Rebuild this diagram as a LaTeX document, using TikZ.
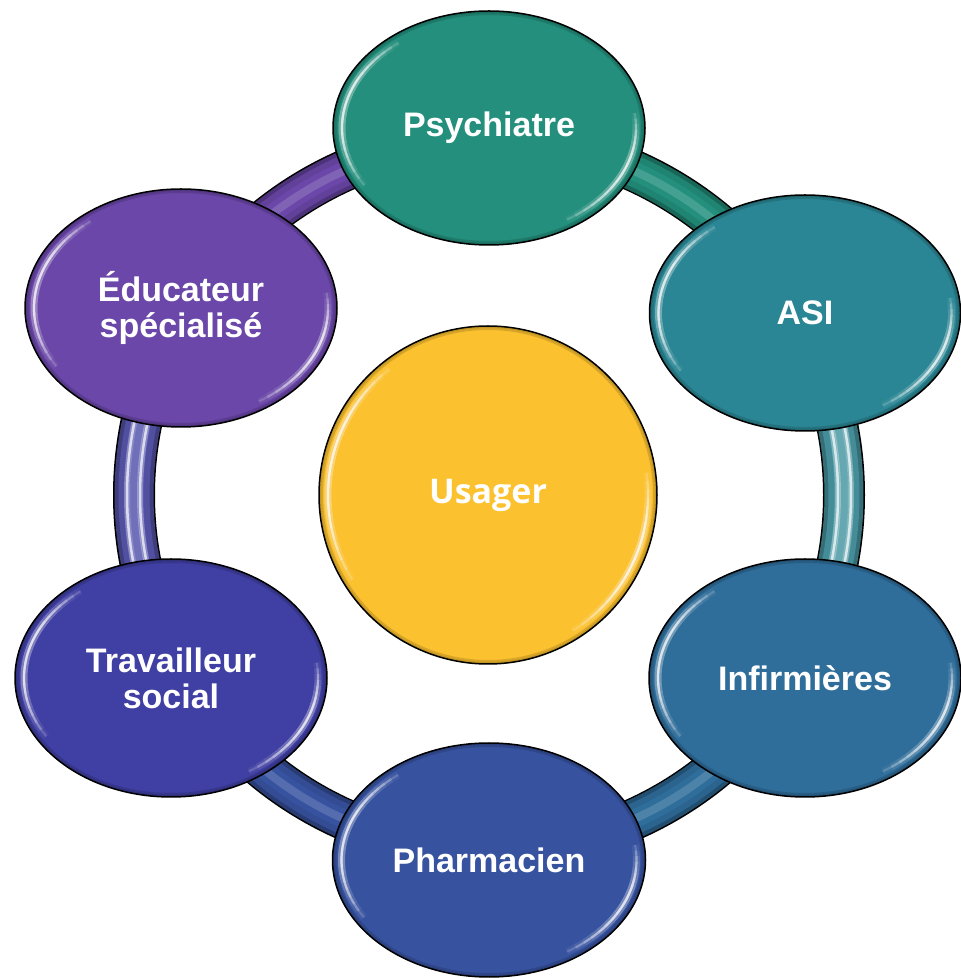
\documentclass[tikz,border=0pt]{standalone}
\usepackage{fontspec}
\setmainfont{Liberation Sans}
\newfontfamily\usfont{Open Sans}
\usetikzlibrary{calc,shapes.geometric}
\definecolor{cpsy}{HTML}{238F7C}
\definecolor{casi}{HTML}{2A8694}
\definecolor{cinf}{HTML}{2F6D9A}
\definecolor{cpha}{HTML}{3753A0}
\definecolor{ctra}{HTML}{403FA3}
\definecolor{cedu}{HTML}{6A47A8}
\definecolor{cusa}{HTML}{FBC12F}
\tikzset{
  bubble/.style={ellipse, draw=black, line width=1.5pt, inner sep=0pt,
    text=white, align=center, font=\bfseries\fontsize{34}{36}\selectfont},
}
\newcommand\mkgloss[3]{%
  \begin{scope}
    \clip (#1.center) ellipse[x radius=#2, y radius=#3];
    \draw[black, opacity=0.14, line width=8] (#1.center) ellipse[x radius=#2, y radius=#3];
    \draw[black, opacity=0.10, line width=4] (#1.center) ellipse[x radius=#2, y radius=#3];
  \end{scope}
  \foreach \i in {0,...,7} {
    \pgfmathsetmacro\sa{128+\i*3.5}
    \pgfmathsetmacro\ea{212-\i*4}
    \pgfmathsetmacro\sb{-58+\i*4}
    \pgfmathsetmacro\eb{8-\i*3}
    \draw[white, opacity=0.05, line width=7]
      (#1.center) ++(\sa:{#2-9} and {#3-9})
      arc[start angle=\sa, end angle=\ea, x radius=#2-9, y radius=#3-9];
    \draw[white, opacity=0.17, line width=2.2]
      (#1.center) ++(\sa:{#2-9} and {#3-9})
      arc[start angle=\sa, end angle=\ea, x radius=#2-9, y radius=#3-9];
    \draw[white, opacity=0.05, line width=7]
      (#1.center) ++(\sb:{#2-9} and {#3-9})
      arc[start angle=\sb, end angle=\eb, x radius=#2-9, y radius=#3-9];
    \draw[white, opacity=0.17, line width=2.2]
      (#1.center) ++(\sb:{#2-9} and {#3-9})
      arc[start angle=\sb, end angle=\eb, x radius=#2-9, y radius=#3-9];
  }
}
\newcommand\ringseg[3]{%
  \draw[line width=39, color=#3!72!black] (ctr) ++(#1:355)
    arc[start angle=#1, end angle=#2, radius=355];
  \draw[line width=31, color=#3!92!black] (ctr) ++(#1:355)
    arc[start angle=#1, end angle=#2, radius=355];
  \draw[line width=19, color=#3] (ctr) ++(#1:355)
    arc[start angle=#1, end angle=#2, radius=355];
  \draw[line width=8, color=#3!85!white] (ctr) ++(#1:355)
    arc[start angle=#1, end angle=#2, radius=355];
}
\begin{document}
\begin{tikzpicture}[x=1pt,y=1pt]
\useasboundingbox (0,0) rectangle (961,978);
\coordinate (ctr) at (489,483);
% ring
\draw[line width=42, black] (ctr) circle[radius=355];
\ringseg{30}{90.5}{cpsy}
\ringseg{-30}{30.5}{casi!85!white}
\ringseg{-90}{-29.5}{cinf}
\ringseg{-150}{-89.5}{cpha}
\ringseg{150}{210.5}{ctra!88!white}
\ringseg{90}{150.5}{cedu}
% glossy stripes on the vertical parts
\foreach \r in {349,362} {
  \draw[line width=6, white, opacity=0.3] (ctr) ++(-30:\r) arc[start angle=-30, end angle=30, radius=\r];
  \draw[line width=2.5, white, opacity=0.7] (ctr) ++(-30:\r) arc[start angle=-30, end angle=30, radius=\r];
  \draw[line width=6, white, opacity=0.3] (ctr) ++(150:\r) arc[start angle=150, end angle=210, radius=\r];
  \draw[line width=2.5, white, opacity=0.7] (ctr) ++(150:\r) arc[start angle=150, end angle=210, radius=\r];
}
% nodes
\node[bubble, fill=cpsy, minimum width=312, minimum height=234] (psy) at (489,850) {Psychiatre};
\node[bubble, fill=casi, minimum width=311, minimum height=236] (asi) at (805,665) {ASI};
\node[bubble, fill=cinf, minimum width=312, minimum height=238] (inf) at (805,300) {Infirmières};
\node[bubble, fill=cpha, minimum width=313, minimum height=234] (pha) at (489,118) {Pharmacien};
\node[bubble, fill=ctra, minimum width=312, minimum height=238] (tra) at (171,300) {Travailleur\\social};
\node[bubble, fill=cedu, minimum width=312, minimum height=238] (edu) at (181,670) {Éducateur\\spécialisé};
\node[bubble, fill=cusa, minimum width=338, minimum height=338, font=\usfont\bfseries\fontsize{34}{36}\selectfont] (usa) at (488,483) {Usager};
\mkgloss{psy}{156}{117}
\mkgloss{asi}{155.5}{118}
\mkgloss{inf}{156}{119}
\mkgloss{pha}{156.5}{117}
\mkgloss{tra}{156}{119}
\mkgloss{edu}{156}{119}
\mkgloss{usa}{169}{169}
\end{tikzpicture}
\end{document}
